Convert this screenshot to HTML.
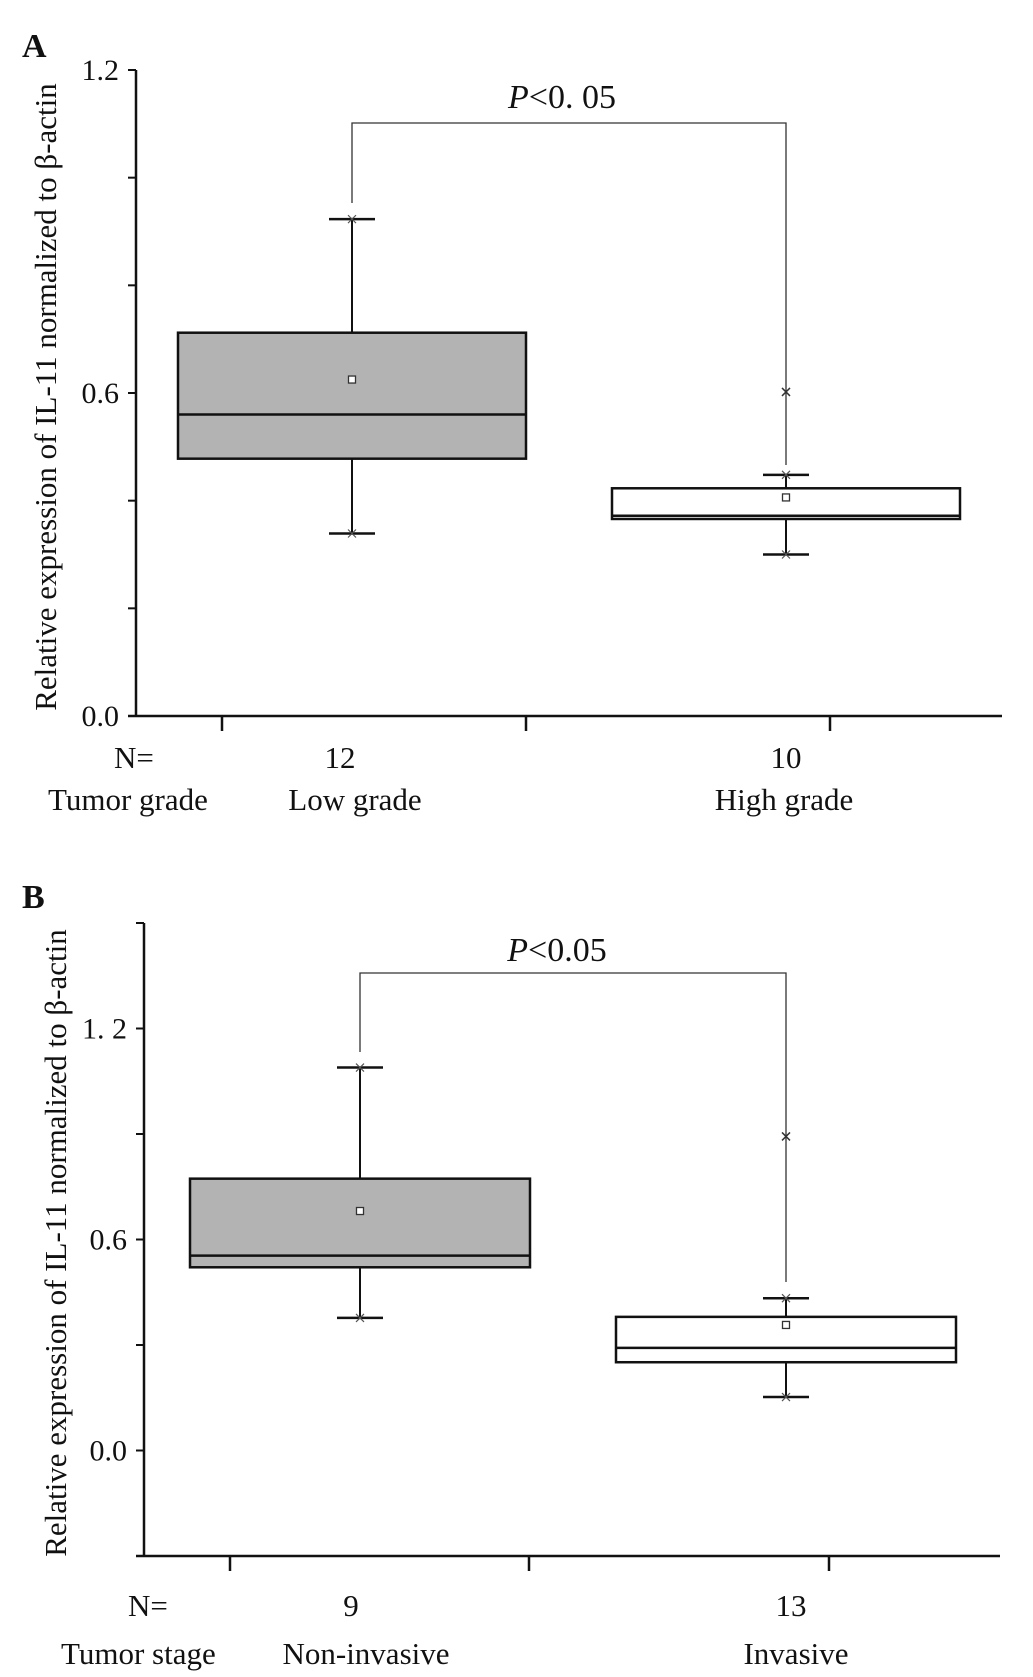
<!DOCTYPE html>
<html><head><meta charset="utf-8"><style>
html,body{margin:0;padding:0;background:#fff}
svg{display:block}
text{font-family:"Liberation Serif",serif;fill:#111}
</style></head><body>
<svg id="chart" width="1033" height="1677" viewBox="0 0 1033 1677" xmlns="http://www.w3.org/2000/svg"></svg>
<script>
// Panel A data
const catsA = ["Low grade","High grade"];
const nA = ["12","10"];
const q1A = [0.478,0.366], medA = [0.560,0.372], q3A = [0.712,0.423];
const meanA = [0.625,0.406], wLoA = [0.339,0.300], wHiA = [0.923,0.448];
const outA = [null,0.602];
const tickLabelsA = ["0.0","0.6","1.2"], tickValsA = [0,0.6,1.2];
// Panel B data
const catsB = ["Non-invasive","Invasive"];
const nB = ["9","13"];
const q1B = [0.521,0.251], medB = [0.554,0.292], q3B = [0.773,0.380];
const meanB = [0.681,0.357], wLoB = [0.377,0.152], wHiB = [1.089,0.433];
const outB = [null,0.893];
const tickLabelsB = ["0.0","0.6","1. 2"], tickValsB = [0,0.6,1.2];

const svg = document.getElementById('chart');
const NS = 'http://www.w3.org/2000/svg';
function mk(tag, attrs, parent){const e=document.createElementNS(NS,tag);for(const k in attrs)e.setAttribute(k,attrs[k]);(parent||svg).appendChild(e);return e;}

function panel(cfg){
  const g = mk('g',{});
  
  
  const y = v => cfg.y0 + (v - cfg.vmin)/(cfg.vmax - cfg.vmin)*(cfg.y1 - cfg.y0);
  const ya = mk('line',{x1:cfg.ax,y1:cfg.y1,x2:cfg.ax,y2:cfg.y0,stroke:'#111','stroke-width':2.5},g);
  
  
  const xa = mk('line',{x1:cfg.ax-8,y1:cfg.y0,x2:cfg.axEnd,y2:cfg.y0,stroke:'#111','stroke-width':2.5},g);
  
  
  for(let v=cfg.vmin; v<=cfg.vmax+1e-6; v+=cfg.minor){
    const t = mk('line',{x1:cfg.ax-8,y1:y(v),x2:cfg.ax,y2:y(v),stroke:'#111','stroke-width':2},g);
    
    
  }
  cfg.tickVals.forEach((v,i)=>{
    const t = mk('text',{x:cfg.ax-17,y:y(v)+10,'text-anchor':'end','font-size':30},g);
    t.textContent = cfg.tickLabels[i];
    
    
  });
  cfg.xticks.forEach(x=>{
    const t = mk('line',{x1:x,y1:cfg.y0,x2:x,y2:cfg.y0+15,stroke:'#111','stroke-width':2.5},g);
    
    
  });
  cfg.cats.forEach((c,i)=>{
    const cx = cfg.cx[i], hw = cfg.hw, cap = 23;
    const wl = mk('line',{x1:cx,y1:y(cfg.wLo[i]),x2:cx,y2:y(cfg.wHi[i]),stroke:'#111','stroke-width':2},g);
    
    
    [cfg.wLo[i],cfg.wHi[i]].forEach(v=>{
      const cl = mk('line',{x1:cx-cap,y1:y(v),x2:cx+cap,y2:y(v),stroke:'#111','stroke-width':2.5},g);
      
      
      const m1 = mk('path',{d:`M${cx-4},${y(v)-4}L${cx+4},${y(v)+4}M${cx-4},${y(v)+4}L${cx+4},${y(v)-4}`,stroke:'#555','stroke-width':1.2},g);
      
      
    });
    const b = mk('rect',{x:cx-hw,y:y(cfg.q3[i]),width:2*hw,height:y(cfg.q1[i])-y(cfg.q3[i]),fill:i===0?'#b3b3b3':'#fff',stroke:'#111','stroke-width':2.5},g);
    
    
    const md = mk('line',{x1:cx-hw,y1:y(cfg.med[i]),x2:cx+hw,y2:y(cfg.med[i]),stroke:'#111','stroke-width':2.5},g);
    
    
    const mn = mk('rect',{x:cx-3.5,y:y(cfg.mean[i])-3.5,width:7,height:7,fill:'#fff',stroke:'#333','stroke-width':1.3},g);
    
    
    if(cfg.out[i]!==null){
      const v=cfg.out[i];
      const o = mk('path',{d:`M${cx-4},${y(v)-4}L${cx+4},${y(v)+4}M${cx-4},${y(v)+4}L${cx+4},${y(v)-4}`,stroke:'#333','stroke-width':1.5},g);
      
      
    }
    const nt = mk('text',{x:cfg.nx[i],y:cfg.nY,'text-anchor':'middle','font-size':31},g);
    nt.textContent = cfg.n[i];
    
    
    const ct = mk('text',{x:cfg.catX[i],y:cfg.catY,'text-anchor':'middle','font-size':31},g);
    ct.textContent = c;
    
    
  });
  const br = mk('path',{d:`M${cfg.cx[0]},${cfg.brL}V${cfg.brY}H${cfg.cx[1]}V${cfg.brR}`,fill:'none',stroke:'#333','stroke-width':1.3},g);
  
  
  const pt = mk('text',{x:cfg.pX,y:cfg.pY,'text-anchor':'middle','font-size':34},g);
  pt.innerHTML = '<tspan font-style="italic">P</tspan>'+cfg.pText;
  
  
  const nl = mk('text',{x:cfg.nEqX,y:cfg.nY,'font-size':31},g);
  nl.textContent='N=';
  
  
  const gl = mk('text',{x:cfg.grpX,y:cfg.catY,'font-size':31},g);
  gl.textContent=cfg.grp;
  
  
  const pl = mk('text',{x:22,y:cfg.letterY,'font-size':34,'font-weight':'bold'},g);
  pl.textContent=cfg.letter;
  
  
  const yl = mk('text',{x:0,y:0,'text-anchor':'middle','font-size':31,transform:`translate(${cfg.ylX},${cfg.ylY}) rotate(-90)`},g);
  yl.textContent='Relative expression of IL-11 normalized to \u03b2-actin';
  
  
}

panel({name:'panel-a',letter:'A',letterY:57,vmin:0,vmax:1.2,y0:716,y1:70,minor:0.2,ax:136,axEnd:1002,
  tickVals:tickValsA,tickLabels:tickLabelsA,xticks:[222,526,830],cats:catsA,cx:[352,786],hw:174,
  q1:q1A,med:medA,q3:q3A,mean:meanA,wLo:wLoA,wHi:wHiA,out:outA,n:nA,nx:[340,786],nY:768,
  catX:[355,784],catY:810,brY:123,brL:203,brR:465,pX:562,pY:108,pText:'&lt;0. 05',nEqX:114,grpX:48,
  grp:'Tumor grade',ylX:56,ylY:397});
panel({name:'panel-b',letter:'B',letterY:908,vmin:-0.3,vmax:1.5,y0:1556,y1:923,minor:0.3,ax:144,axEnd:1000,
  tickVals:tickValsB,tickLabels:tickLabelsB,xticks:[230,529,829],cats:catsB,cx:[360,786],hw:170,
  q1:q1B,med:medB,q3:q3B,mean:meanB,wLo:wLoB,wHi:wHiB,out:outB,n:nB,nx:[351,791],nY:1616,
  catX:[366,796],catY:1664,brY:973,brL:1052,brR:1282,pX:557,pY:961,pText:'&lt;0.05',nEqX:128,grpX:61,
  grp:'Tumor stage',ylX:66,ylY:1243});
</script>
</body></html>
